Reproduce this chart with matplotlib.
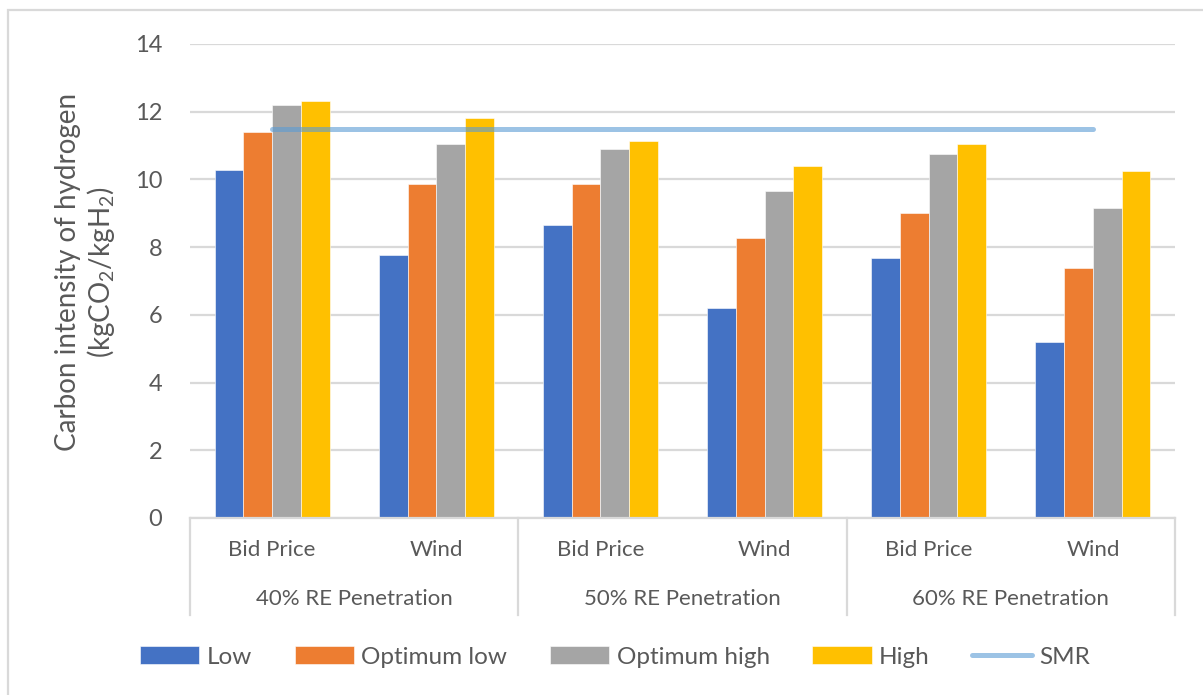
import numpy as np
import matplotlib
matplotlib.use("Agg")
import matplotlib.pyplot as plt
from matplotlib.patches import Rectangle
import matplotlib.transforms as mtransforms

plt.rcParams['font.family'] = ['Lato', 'DejaVu Sans']
plt.rcParams['mathtext.fontset'] = 'custom'
plt.rcParams['mathtext.rm'] = 'Lato'
plt.rcParams['mathtext.it'] = 'Lato:italic'

# carbon intensity by scenario (kgCO2/kgH2)
groups = ['40% RE Penetration', '50% RE Penetration', '60% RE Penetration']
sources = ['Bid Price', 'Wind']
series = ['Low', 'Optimum low', 'Optimum high', 'High']
low = [10.28, 7.77, 8.64, 6.19, 7.68, 5.19]
opt_low = [11.40, 9.86, 9.87, 8.26, 9.00, 7.37]
opt_high = [12.19, 11.06, 10.89, 9.66, 10.75, 9.16]
high = [12.33, 11.80, 11.13, 10.39, 11.05, 10.26]
smr = [11.5, 11.5, 11.5, 11.5, 11.5, 11.5]

colors = ['#4472c4', '#ed7d31', '#a5a5a5', '#ffc000']
grey_txt = '#595959'
grid_col = '#d9d9d9'

fig = plt.figure(figsize=(12.03, 6.95), dpi=100)
ax = fig.add_axes([190 / 1203, 1 - 518 / 695, 985 / 1203, 474 / 695])

x = np.arange(len(low))
w = 0.175
for i, (vals, c, name) in enumerate(zip([low, opt_low, opt_high, high], colors, series)):
    ax.bar(x + (i - 1.5) * w, vals, w, color=c, label=name, zorder=2,
           edgecolor='white', linewidth=0.4)

ax.plot(x, smr, color='#5b9bd5', alpha=0.6, lw=3.6, solid_capstyle='round',
        label='SMR', zorder=3)

ax.set_xlim(-0.5, 5.5)
ax.set_ylim(0, 14)
ax.set_yticks(range(0, 15, 2))
ax.tick_params(axis='y', length=0, pad=20, labelsize=17, labelcolor=grey_txt)
ax.set_xticks([])
ax.yaxis.grid(True, color=grid_col, lw=1.6, zorder=0)
ax.set_axisbelow(True)
for s in ['top', 'right', 'left']:
    ax.spines[s].set_visible(False)
ax.spines['bottom'].set_color(grid_col)
ax.spines['bottom'].set_linewidth(1.6)

# two-level category axis
trans = mtransforms.blended_transform_factory(ax.transData, ax.transAxes)
for sep in [-0.5, 1.5, 3.5, 5.5]:
    ax.plot([sep, sep], [0, -0.205], color=grid_col, lw=1.6, transform=trans,
            clip_on=False)
for i in range(len(low)):
    ax.text(i, -0.068, sources[i % 2], transform=trans, ha='center', va='center',
            fontsize=16, color=grey_txt)
for j, g in enumerate(groups):
    ax.text(2 * j + 0.5, -0.17, g, transform=trans, ha='center', va='center',
            fontsize=16, color=grey_txt)

fig.text(86 / 1203, 1 - 272 / 695,
         'Carbon intensity of hydrogen\n(kgCO$_2$/kgH$_2$)',
         rotation=90, ha='center', va='center', multialignment='center',
         fontsize=20, color=grey_txt, linespacing=1.15)

handles, labels = ax.get_legend_handles_labels()
order = [1, 2, 3, 4, 0]
leg = fig.legend([handles[k] for k in order], [labels[k] for k in order],
                 loc='center', bbox_to_anchor=(615 / 1203, 1 - 657 / 695),
                 ncol=5, frameon=False, fontsize=17.5, handlelength=2.45,
                 handleheight=0.75, handletextpad=0.3, columnspacing=1.75)
for t in leg.get_texts():
    t.set_color(grey_txt)

# chart area border
fig.patches.append(Rectangle((8 / 1203, -0.1), 1.2, 1 - 10 / 695 + 0.1,
                             transform=fig.transFigure, fill=False,
                             edgecolor=grid_col, lw=1.6))

fig.savefig('out.png', dpi=100)
